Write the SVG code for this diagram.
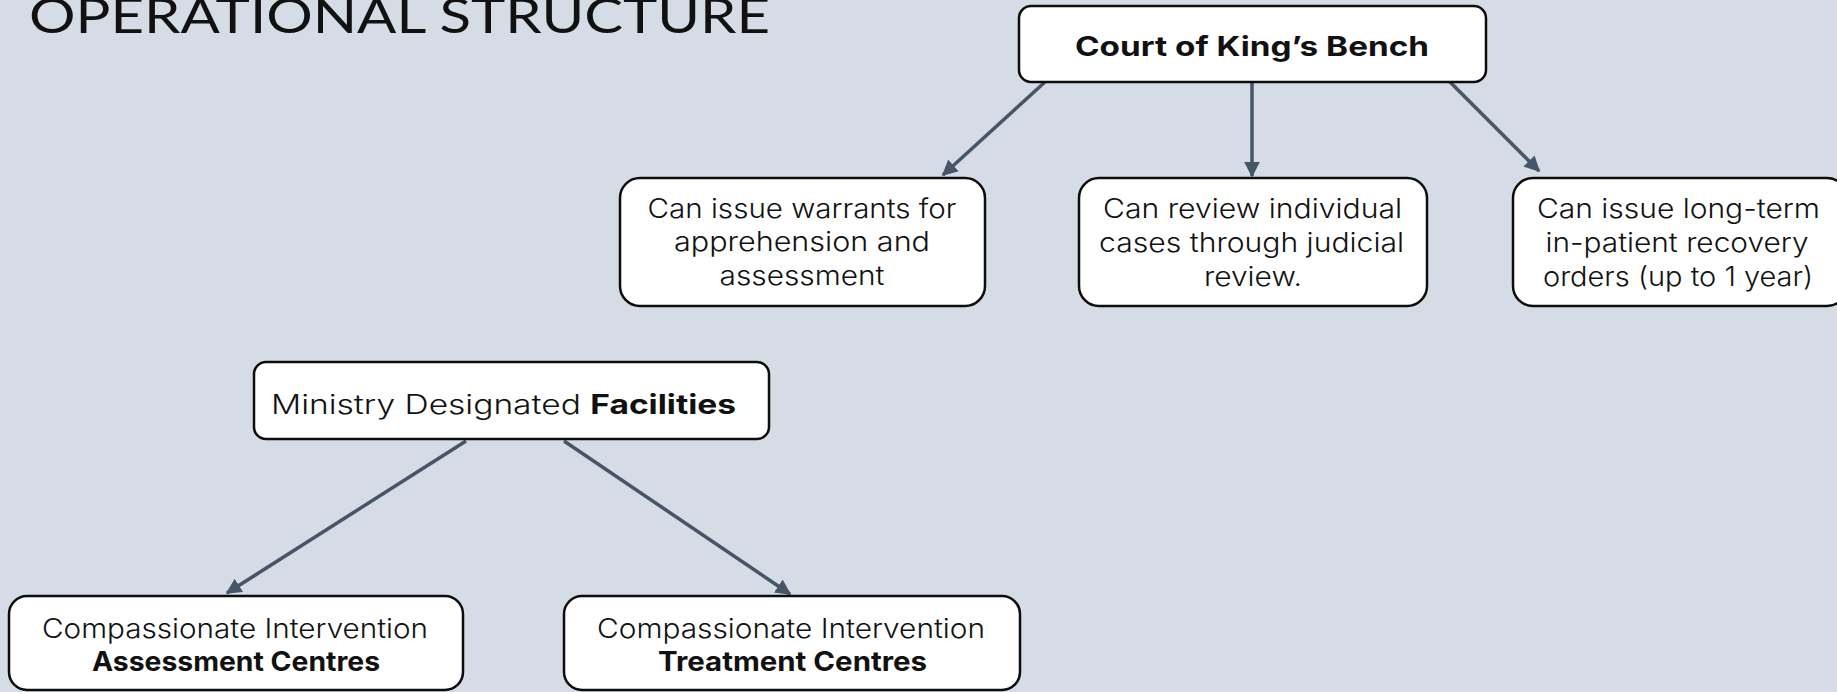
<svg xmlns="http://www.w3.org/2000/svg" width="1837" height="692" viewBox="0 0 1837 692">
<style>
.bg{fill:#d5dce5}
.box{fill:#ffffff;stroke:#0d0d0d;stroke-width:2.5}
.t{font-family:Inter,"Open Sans","Liberation Sans",sans-serif;font-weight:300;font-size:27px;fill:#111;text-anchor:middle}
.b{font-weight:700}
.title{font-family:Lato,"Open Sans","Liberation Sans",sans-serif;font-weight:400;font-size:48px;fill:#111}
.conn line{stroke:#475569;stroke-width:3.5;fill:none}
</style>
<defs>
<marker id="ah" viewBox="0 0 10 10" refX="9" refY="5" markerWidth="4.5" markerHeight="4.5" markerUnits="strokeWidth" orient="auto">
<path d="M0,0 L10,5 L0,10 z" fill="#475569"/>
</marker>
</defs>
<rect class="bg" x="0" y="0" width="1837" height="692"/>
<text class="title" x="29" y="33" textLength="741" lengthAdjust="spacingAndGlyphs">OPERATIONAL STRUCTURE</text>

<g class="conn">
<line x1="1045" y1="82" x2="943" y2="175" marker-end="url(#ah)"/>
<line x1="1252" y1="83" x2="1252" y2="176" marker-end="url(#ah)"/>
<line x1="1449" y1="81" x2="1539" y2="171" marker-end="url(#ah)"/>
<line x1="466" y1="441" x2="227" y2="593" marker-end="url(#ah)"/>
<line x1="564" y1="441" x2="790" y2="594" marker-end="url(#ah)"/>
</g>

<g id="court">
<rect class="box" x="1019" y="6" width="467" height="76" rx="12"/>
<text class="t b" x="1252" y="56" font-size="30" textLength="354" lengthAdjust="spacingAndGlyphs">Court of King’s Bench</text>
</g>

<g id="warrants">
<rect class="box" x="620" y="178" width="365" height="128" rx="20"/>
<text class="t" x="802" y="218" textLength="309" lengthAdjust="spacingAndGlyphs">Can issue warrants for</text>
<text class="t" x="802" y="251" textLength="256" lengthAdjust="spacingAndGlyphs">apprehension and</text>
<text class="t" x="802" y="285" textLength="165" lengthAdjust="spacingAndGlyphs">assessment</text>
</g>

<g id="review">
<rect class="box" x="1079" y="178" width="348" height="128" rx="20"/>
<text class="t" x="1252.5" y="218" textLength="299" lengthAdjust="spacingAndGlyphs">Can review individual</text>
<text class="t" x="1251.5" y="252" textLength="305" lengthAdjust="spacingAndGlyphs">cases through judicial</text>
<text class="t" x="1253" y="286" textLength="98" lengthAdjust="spacingAndGlyphs">review.</text>
</g>

<g id="orders">
<rect class="box" x="1513" y="178" width="334" height="128" rx="20"/>
<text class="t" x="1678.5" y="218" textLength="283" lengthAdjust="spacingAndGlyphs">Can issue long-term</text>
<text class="t" x="1677" y="252" textLength="263" lengthAdjust="spacingAndGlyphs">in-patient recovery</text>
<text class="t" x="1678" y="286" textLength="270" lengthAdjust="spacingAndGlyphs">orders (up to 1 year)</text>
</g>

<g id="ministry">
<rect class="box" x="254" y="362" width="515" height="77" rx="12"/>
<text class="t" x="271" y="414" font-size="32" style="text-anchor:start" textLength="465" lengthAdjust="spacingAndGlyphs">Ministry Designated <tspan class="b">Facilities</tspan></text>
</g>

<g id="assessment">
<rect class="box" x="9" y="596" width="454" height="94" rx="18"/>
<text class="t" x="235" y="638" font-size="26" textLength="386" lengthAdjust="spacingAndGlyphs">Compassionate Intervention</text>
<text class="t b" x="236" y="671" font-size="26" textLength="288" lengthAdjust="spacingAndGlyphs">Assessment Centres</text>
</g>

<g id="treatment">
<rect class="box" x="564" y="596" width="456" height="94" rx="18"/>
<text class="t" x="791" y="638" font-size="26" textLength="388" lengthAdjust="spacingAndGlyphs">Compassionate Intervention</text>
<text class="t b" x="792.5" y="671" font-size="26" textLength="269" lengthAdjust="spacingAndGlyphs">Treatment Centres</text>
</g>
</svg>
